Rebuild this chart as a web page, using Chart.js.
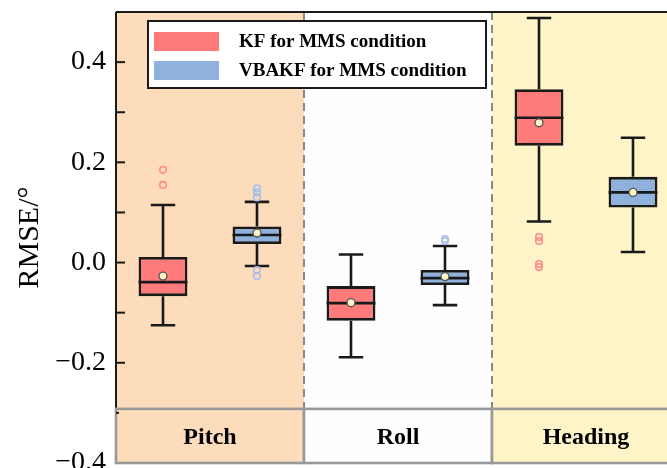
<!DOCTYPE html>
<html>
<head>
<meta charset="utf-8">
<script src="https://cdn.jsdelivr.net/npm/chart.js@4.4.1/dist/chart.umd.min.js"></script>
<style>
  html, body { margin: 0; padding: 0; overflow: hidden; background: #ffffff; }
  #wrap { width: 667px; height: 468px; overflow: hidden; }
  canvas { display: block; }
</style>
</head>
<body>
<div id="wrap"><canvas id="chart" width="700" height="468"></canvas></div>
<script>
// Attitude RMSE, box statistics per axis
const categories = ['Pitch', 'Roll', 'Heading'];
const seriesNames = ['KF for MMS condition', 'VBAKF for MMS condition'];

const kfLow      = [-0.125, -0.189, 0.082];
const kfQ1       = [-0.067, -0.116, 0.233];
const kfMedian   = [-0.039, -0.081, 0.289];
const kfQ3       = [ 0.011, -0.047, 0.346];
const kfHigh     = [ 0.115,  0.016, 0.488];
const kfMean     = [-0.027, -0.080, 0.279];
const kfOutliers = [[0.185, 0.155], [], [0.051, 0.043, -0.003, -0.009]];

const vbLow      = [-0.007, -0.085, 0.021];
const vbQ1       = [ 0.037, -0.045, 0.110];
const vbMedian   = [ 0.055, -0.031, 0.140];
const vbQ3       = [ 0.072, -0.015, 0.171];
const vbHigh     = [ 0.121,  0.033, 0.249];
const vbMean     = [ 0.059, -0.028, 0.140];
const vbOutliers = [[0.148, 0.140, 0.130, -0.015, -0.027], [0.047, 0.043], []];

const yMajorTicks = [-0.4, -0.2, 0.0, 0.2, 0.4];
const yMinorTicks = [-0.3, -0.1, 0.1, 0.3];
const stripTopValue = -0.292;
const stripBottomValue = -0.4;

const bandColors = ['#fddcbb', '#fefefe', '#fef4c8'];
const boxColors = ['#ff7b7b', '#8fb1dd'];
const outlierColors = ['#ff8a8a', '#a4bfea'];
const SERIF = '"Liberation Serif", "Times New Roman", serif';

function boxSet(label, color, lo, q1, med, q3, hi, mean, outl) {
  return {
    label,
    data: q1.map((v, i) => [v, q3[i]]),
    backgroundColor: color,
    borderColor: '#1a1a1a',
    borderWidth: 2.8,
    borderSkipped: false,
    stats: { lo, med, hi, mean, outl }
  };
}

const boxPlugin = {
  id: 'boxExtras',
  beforeDatasetsDraw(chart) {
    const { ctx, chartArea: a, scales: { x, y } } = chart;
    const half = (x.getPixelForValue(1) - x.getPixelForValue(0)) / 2;
    const stripTop = y.getPixelForValue(stripTopValue);
    ctx.save();
    // background bands
    categories.forEach((c, i) => {
      const cx = x.getPixelForValue(i);
      ctx.fillStyle = bandColors[i];
      ctx.fillRect(cx - half, a.top, half * 2, stripTop - a.top);
    });
    // dashed separators
    ctx.strokeStyle = '#888888';
    ctx.lineWidth = 2;
    ctx.setLineDash([8, 5]);
    for (let i = 1; i < categories.length; i++) {
      const sx = x.getPixelForValue(i) - half;
      ctx.beginPath();
      ctx.moveTo(sx, a.top);
      ctx.lineTo(sx, stripTop);
      ctx.stroke();
    }
    ctx.setLineDash([]);
    // whiskers
    ctx.strokeStyle = '#1a1a1a';
    ctx.lineWidth = 2.6;
    chart.data.datasets.forEach((ds, di) => {
      const meta = chart.getDatasetMeta(di);
      meta.data.forEach((bar, i) => {
        const bx = bar.x, cap = bar.width / 4;
        const s = ds.stats;
        const pairs = [[s.hi[i], ds.data[i][1]], [s.lo[i], ds.data[i][0]]];
        pairs.forEach(([end, edge]) => {
          const ye = y.getPixelForValue(end);
          ctx.beginPath();
          ctx.moveTo(bx, y.getPixelForValue(edge));
          ctx.lineTo(bx, ye);
          ctx.moveTo(bx - cap, ye);
          ctx.lineTo(bx + cap, ye);
          ctx.stroke();
        });
      });
    });
    ctx.restore();
  },
  afterDatasetsDraw(chart) {
    const { ctx, chartArea: a, scales: { x, y } } = chart;
    const half = (x.getPixelForValue(1) - x.getPixelForValue(0)) / 2;
    const stripTop = y.getPixelForValue(stripTopValue);
    const stripBottom = y.getPixelForValue(stripBottomValue);
    ctx.save();
    chart.data.datasets.forEach((ds, di) => {
      const meta = chart.getDatasetMeta(di);
      const s = ds.stats;
      meta.data.forEach((bar, i) => {
        const bx = bar.x, hw = bar.width / 2;
        // median
        ctx.strokeStyle = '#1a1a1a';
        ctx.lineWidth = 2.6;
        const ym = y.getPixelForValue(s.med[i]);
        ctx.beginPath();
        ctx.moveTo(bx - hw, ym);
        ctx.lineTo(bx + hw, ym);
        ctx.stroke();
        // outliers
        ctx.strokeStyle = outlierColors[di];
        ctx.lineWidth = 1.6;
        s.outl[i].forEach(v => {
          ctx.beginPath();
          ctx.arc(bx, y.getPixelForValue(v), 3.3, 0, Math.PI * 2);
          ctx.stroke();
        });
        // mean
        ctx.fillStyle = '#fff4c6';
        ctx.strokeStyle = '#555555';
        ctx.lineWidth = 1.4;
        ctx.beginPath();
        ctx.arc(bx, y.getPixelForValue(s.mean[i]), 4, 0, Math.PI * 2);
        ctx.fill();
        ctx.stroke();
      });
    });

    // frame: top and left axis lines
    ctx.strokeStyle = '#1a1a1a';
    ctx.lineWidth = 2;
    ctx.beginPath();
    ctx.moveTo(a.left, a.top);
    ctx.lineTo(a.right + 20, a.top);
    ctx.moveTo(a.left, a.top);
    ctx.lineTo(a.left, stripTop + 2);
    ctx.stroke();

    // inward tick marks
    ctx.lineWidth = 2;
    yMajorTicks.concat(yMinorTicks).forEach(v => {
      const ty = y.getPixelForValue(v);
      if (ty > stripTop - 2) return;
      ctx.beginPath();
      ctx.moveTo(a.left, ty);
      ctx.lineTo(a.left + 9, ty);
      ctx.stroke();
    });

    // category strip
    categories.forEach((c, i) => {
      const cx = x.getPixelForValue(i);
      ctx.fillStyle = bandColors[i];
      ctx.fillRect(cx - half, stripTop, half * 2, stripBottom - stripTop);
      ctx.strokeStyle = '#999999';
      ctx.lineWidth = 2.6;
      ctx.strokeRect(cx - half, stripTop, half * 2, stripBottom - stripTop);
      ctx.fillStyle = '#000000';
      ctx.font = 'bold 24px ' + SERIF;
      ctx.textAlign = 'center';
      ctx.textBaseline = 'middle';
      ctx.fillText(c, cx, (stripTop + stripBottom) / 2 + 1.5);
    });
    // short tick stub inside the strip
    ctx.strokeStyle = '#1a1a1a';
    ctx.lineWidth = 2;
    const t3 = y.getPixelForValue(-0.3);
    ctx.beginPath();
    ctx.moveTo(a.left, t3);
    ctx.lineTo(a.left + 3, t3);
    ctx.stroke();

    // legend
    const lx = 148, ly = 21, lw = 338, lh = 67;
    ctx.fillStyle = '#ffffff';
    ctx.fillRect(lx, ly, lw, lh);
    ctx.strokeStyle = '#1a1a1a';
    ctx.lineWidth = 2;
    ctx.strokeRect(lx, ly, lw, lh);
    ctx.font = 'bold 19px ' + SERIF;
    ctx.textAlign = 'left';
    ctx.textBaseline = 'middle';
    seriesNames.forEach((name, k) => {
      const sy = 32 + k * 29;
      ctx.fillStyle = boxColors[k];
      ctx.fillRect(154, sy, 65, 19);
      ctx.fillStyle = '#000000';
      ctx.fillText(name, 239, sy + 10);
    });
    ctx.restore();
  }
};

new Chart(document.getElementById('chart'), {
  type: 'bar',
  data: {
    labels: categories,
    datasets: [
      boxSet(seriesNames[0], boxColors[0], kfLow, kfQ1, kfMedian, kfQ3, kfHigh, kfMean, kfOutliers),
      boxSet(seriesNames[1], boxColors[1], vbLow, vbQ1, vbMedian, vbQ3, vbHigh, vbMean, vbOutliers)
    ]
  },
  options: {
    responsive: false,
    animation: false,
    events: [],
    layout: { padding: { top: 12, right: 20, bottom: 5, left: 0 } },
    datasets: { bar: { categoryPercentage: 1.0, barPercentage: 0.52 } },
    plugins: { legend: { display: false }, tooltip: { enabled: false } },
    scales: {
      x: { display: false, offset: true },
      y: {
        min: -0.4,
        max: 0.5,
        grid: { display: false, drawTicks: false },
        border: { display: false },
        afterBuildTicks: s => { s.ticks = yMajorTicks.map(v => ({ value: v })); },
        afterFit: s => { s.width = 116; s.paddingTop = 0; s.paddingBottom = 0; },
        ticks: {
          padding: 10,
          color: '#000000',
          font: { family: SERIF, size: 28 },
          callback: v => v.toFixed(1).replace('-', '\u2212')
        },
        title: {
          display: true,
          text: 'RMSE/\u00b0',
          color: '#000000',
          font: { family: SERIF, size: 30 },
          padding: { top: 12, bottom: 0 }
        }
      }
    }
  },
  plugins: [boxPlugin]
});
</script>
</body>
</html>
